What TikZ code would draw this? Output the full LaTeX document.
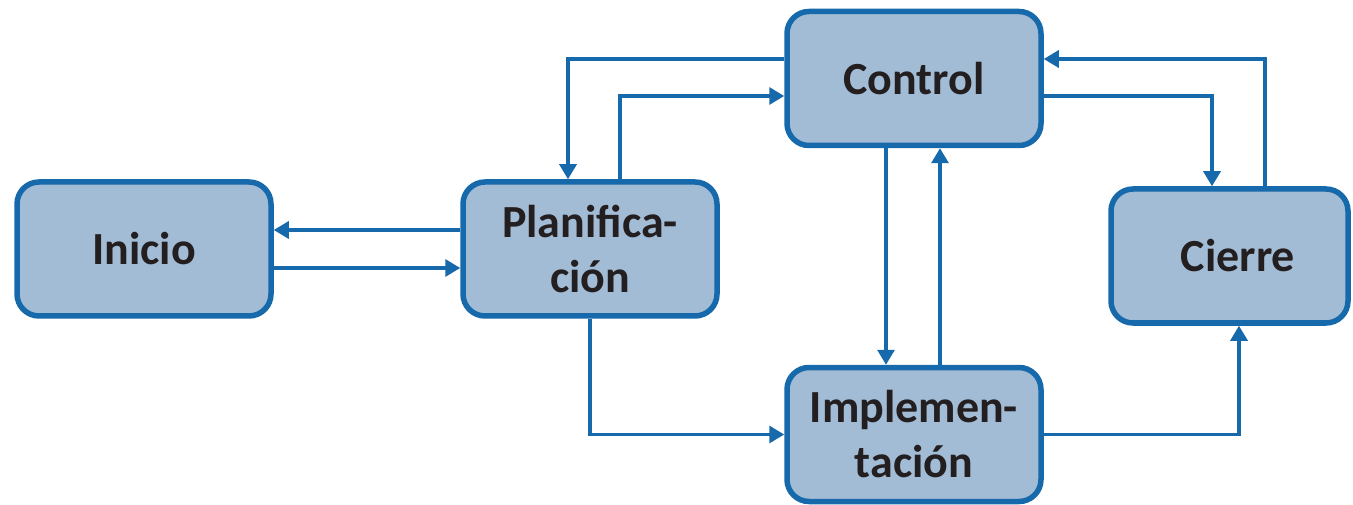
\documentclass[tikz,border=0pt]{standalone}
\usepackage{fontspec}
\setmainfont{Carlito}
\usetikzlibrary{arrows.meta}
\definecolor{edgeblue}{HTML}{1669AA}
\definecolor{boxfill}{HTML}{A3BCD5}
\definecolor{labeltext}{HTML}{231F20}
\begin{document}
\begin{tikzpicture}[x=1pt,y=-1pt,
  phase/.style={draw=edgeblue, fill=boxfill, line width=5.5pt, rounded corners=22pt,
    minimum width=254pt, minimum height=134pt, align=center, text=labeltext,
    font=\fontsize{46}{55}\selectfont\bfseries},
  arr/.style={draw=edgeblue, line width=3.2pt, -{Triangle[length=15pt,width=17pt]}}]
\useasboundingbox (0,0) rectangle (1353,505);
% phases of the project
\node[phase] (inicio) at (144,249) {Inicio};
\node[phase] (plan) at (590,249) {Planifica-\\ción};
\node[phase] (control) at (914,78.5) {Control};
\node[phase] (impl) at (914,434.5) {Implemen-\\tación};
\node[phase, minimum width=237pt] (cierre) at (1229.5,256) {\hspace*{17pt}Cierre};
% flows between phases
\draw[arr] ([yshift=19pt]plan.west) -- ([yshift=19pt]inicio.east);
\draw[arr] ([yshift=-19pt]inicio.east) -- ([yshift=-19pt]plan.west);
\draw[arr] ([yshift=19.5pt]control.west) -| ([xshift=-22pt]plan.north);
\draw[arr] ([xshift=30pt]plan.north) |- ([yshift=-17.5pt]control.west);
\draw[arr] ([yshift=-17.5pt]control.east) -| ([xshift=-17.5pt]cierre.north);
\draw[arr] ([xshift=35.5pt]cierre.north) |- ([yshift=19.5pt]control.east);
\draw[arr] ([xshift=-28pt]control.south) -- ([xshift=-28pt]impl.north);
\draw[arr] ([xshift=26pt]impl.north) -- ([xshift=26pt]control.south);
\draw[arr] (plan.south) |- (impl.west);
\draw[arr] (impl.east) -| ([xshift=9.5pt]cierre.south);
\end{tikzpicture}
\end{document}
